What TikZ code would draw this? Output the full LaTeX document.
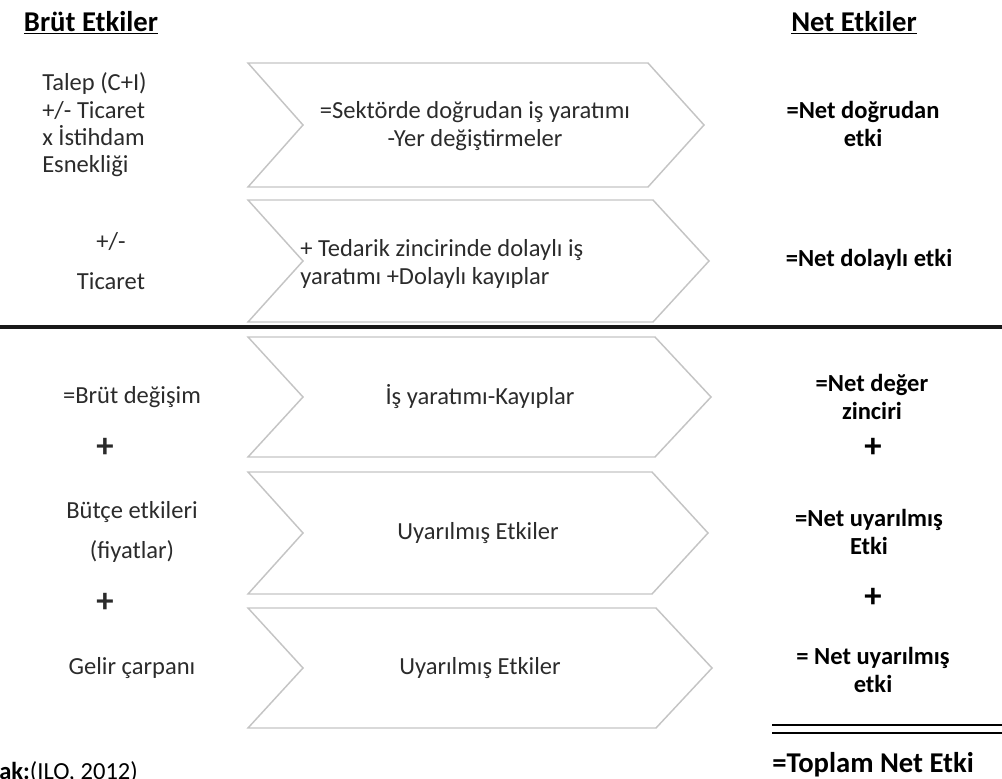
\documentclass[tikz,border=0pt]{standalone}
\usepackage{fontspec}
\setmainfont{Carlito}
\usepackage{tikz}
\usetikzlibrary{positioning}
\definecolor{chevGray}{HTML}{C4C4C4}
\definecolor{txtGray}{HTML}{2B2B2B}

\begin{document}
\begin{tikzpicture}[x=0.75pt, y=-0.75pt,
  chev/.style={draw=chevGray, line width=1.1pt, line join=miter},
  lbl/.style={font=\fontsize{18.4}{20.5}\selectfont, text=txtGray,
              align=center, inner sep=0pt},
  netlbl/.style={font=\fontsize{18.4}{20.5}\selectfont\bfseries,
                 align=center, inner sep=0pt},
  head/.style={font=\fontsize{21.5}{24}\selectfont\bfseries, inner sep=0pt},
  plus/.style={font=\fontsize{26}{26}\selectfont\bfseries, inner sep=0pt}
]
\useasboundingbox (0,0) rectangle (1002,778);

% chevrons
\foreach \t/\b/\r in {63/187/648, 200/322/653, 337/457/655, 472/594/652, 608/728/656}
  \draw[chev] (248,\t) -- (\r,\t) -- ({\r+56},{(\t+\b)/2}) -- (\r,\b)
    -- (248,\b) -- (303,{(\t+\b)/2}) -- cycle;

\node[head] (brut) at (91,23) {\underline{Brüt Etkiler}};
\node[head] (net) at (854,23) {\underline{Net Etkiler}};

% upper block
\node[lbl, align=left, anchor=west] (talep) at (42,125)
  {Talep (C+I)\\+/- Ticaret\\x İstihdam\\Esnekliği};
\node[lbl] (tic) at (111,261) {+/-\\[9pt]Ticaret};
\node[lbl] (sekt) at (475,126) {=Sektörde doğrudan iş yaratımı\\-Yer değiştirmeler};
\node[lbl, align=left, anchor=west] (tedarik) at (300,264)
  {+ Tedarik zincirinde dolaylı iş\\yaratımı +Dolaylı kayıplar};
\node[netlbl] (dogr) at (863,124) {=Net doğrudan\\etki};
\node[netlbl] (dolay) at (869,260) {=Net dolaylı etki};

\draw[line width=2.6pt, black!90] (0,327) -- (1002,327);

% lower block
\node[lbl] (degis) at (132,397) {=Brüt değişim};
\node[plus, txtGray] (p1) at (105,448) {+};
\node[lbl] (butce) at (132,532) {Bütçe etkileri\\[9pt](fiyatlar)};
\node[plus, txtGray] (p2) at (105,603) {+};
\node[lbl] (gelir) at (132,668) {Gelir çarpanı};

\node[lbl] (isyar) at (480,397) {İş yaratımı-Kayıplar};
\node[lbl] (uyar1) at (478,533) {Uyarılmış Etkiler};
\node[lbl] (uyar2) at (480,668) {Uyarılmış Etkiler};

\node[netlbl] (deger) at (872,397) {=Net değer\\zinciri};
\node[plus] (p3) at (873,448) {+};
\node[netlbl] (nuyar1) at (869,532) {=Net uyarılmış\\Etki};
\node[plus] (p4) at (873,598) {+};
\node[netlbl] (nuyar2) at (873,670) {= Net uyarılmış\\etki};

\draw[line width=1.5pt] (772,725) -- (1002,725);
\draw[line width=1.5pt] (772,733) -- (1002,733);
\node[head, anchor=west] (toplam) at (772,765) {=Toplam Net Etki};

\node[lbl, anchor=west, text=black] (kaynak) at (-1,772) {\textbf{ak:}(ILO, 2012)};
\end{tikzpicture}
\end{document}
